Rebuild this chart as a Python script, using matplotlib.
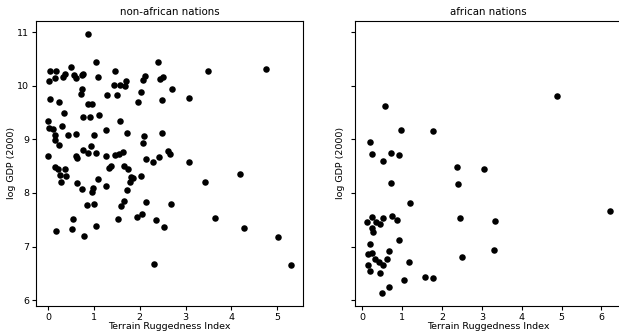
import matplotlib
matplotlib.use("Agg")
import matplotlib.pyplot as plt

# Terrain ruggedness vs. log GDP per capita (2000)
non_african_rugged = [
    0.87, 1.05, 2.40, 0.03, 0.18, 0.51, 0.37, 0.32, 0.14, 0.02,
    0.57, 0.60, 0.73, 0.77, 1.09, 1.46, 2.11, 2.08, 2.50, 2.45,
    1.43, 1.58, 1.69, 1.68, 0.75, 0.71, 1.29, 1.51, 2.03, 1.96,
    2.49, 2.70, 3.08, 3.50, 4.75, 0.05, 0.23, 0.87, 0.96, 0.34,
    0.77, 0.91, 1.10, 1.56, 0.00, 0.01, 0.11, 0.30, 1.26, 1.72,
    0.16, 0.43, 0.60, 1.00, 2.48, 0.15, 0.23, 2.10, 2.07, 0.94,
    0.77, 0.88, 1.05, 0.00, 0.60, 0.64, 1.26, 1.47, 1.55, 1.64,
    2.13, 2.30, 2.43, 2.62, 2.66, 3.07, 1.33, 1.38, 1.66, 1.74,
    0.14, 0.22, 0.37, 0.26, 0.40, 0.27, 0.64, 1.08, 0.75, 0.98,
    0.96, 1.26, 1.82, 1.86, 1.79, 2.02, 1.72, 0.84, 1.01, 1.66,
    1.59, 2.14, 2.68, 0.54, 1.53, 1.94, 2.04, 2.36, 2.54, 0.18,
    0.52, 1.05, 0.79, 2.31, 4.19, 3.42, 3.65, 4.28, 5.03, 5.30,
]
non_african_gdp = [
    10.97, 10.44, 10.44, 10.27, 10.27, 10.34, 10.22, 10.16, 10.15, 10.08,
    10.19, 10.15, 10.19, 10.22, 10.16, 10.27, 10.18, 10.11, 10.16, 10.12,
    10.02, 10.01, 10.09, 10.00, 9.94, 9.84, 9.82, 9.82, 9.89, 9.70,
    9.74, 9.93, 9.77, 10.28, 10.32, 9.75, 9.69, 9.65, 9.65, 9.50,
    9.41, 9.42, 9.45, 9.34, 9.34, 9.22, 9.19, 9.25, 9.17, 9.11,
    9.09, 9.08, 9.10, 9.09, 9.12, 8.98, 8.89, 9.06, 8.93, 8.87,
    8.80, 8.75, 8.75, 8.69, 8.68, 8.65, 8.68, 8.70, 8.73, 8.76,
    8.64, 8.58, 8.67, 8.78, 8.72, 8.58, 8.47, 8.50, 8.50, 8.44,
    8.49, 8.44, 8.44, 8.33, 8.32, 8.21, 8.19, 8.26, 8.08, 8.09,
    8.01, 8.13, 8.29, 8.28, 8.20, 8.31, 8.06, 7.78, 7.79, 7.85,
    7.75, 7.83, 7.79, 7.52, 7.52, 7.55, 7.60, 7.49, 7.36, 7.30,
    7.32, 7.38, 7.19, 6.67, 8.35, 8.21, 7.53, 7.35, 7.18, 6.66,
]

african_rugged = [
    0.56, 0.96, 1.77, 0.19, 0.23, 0.73, 0.91, 0.51, 2.37, 3.06,
    0.73, 2.41, 1.20, 0.24, 0.51, 0.75, 0.86, 0.12, 0.35, 0.44,
    0.24, 0.27, 2.44, 0.91, 0.19, 0.14, 0.24, 0.67, 0.31, 0.43,
    0.52, 0.61, 0.14, 0.18, 0.44, 1.18, 2.49, 1.04, 1.57, 1.78,
    0.68, 0.50, 4.88, 3.33, 6.21, 3.31,
]
african_gdp = [
    9.63, 9.17, 9.16, 8.95, 8.72, 8.75, 8.71, 8.60, 8.48, 8.45,
    8.19, 8.16, 7.82, 7.55, 7.54, 7.58, 7.49, 7.45, 7.45, 7.42,
    7.35, 7.27, 7.53, 7.12, 7.04, 6.86, 6.89, 6.92, 6.77, 6.71,
    6.65, 6.77, 6.66, 6.55, 6.50, 6.71, 6.81, 6.37, 6.44, 6.42,
    6.25, 6.14, 9.80, 7.47, 7.66, 6.94,
]

plt.rcParams["font.family"] = ["DejaVu Sans"]
plt.rcParams["font.size"] = 6.8

fig = plt.figure(figsize=(6.19, 3.32), dpi=100)
W, H = 619.0, 332.0
ax1 = fig.add_axes([36 / W, (H - 305.7) / H, 267 / W, 285 / H])
ax2 = fig.add_axes([355 / W, (H - 305.7) / H, 267 / W, 285 / H], sharey=ax1)

panels = [
    (ax1, non_african_rugged, non_african_gdp, "non-african nations", 0.5),
    (ax2, african_rugged, african_gdp, "african nations", 4),
]
for ax, xs, ys, title, ypad in panels:
    ax.scatter(xs, ys, s=22, color="black", linewidths=0)
    ax.set_title(title, fontsize=7.4, pad=4)
    ax.set_xlabel("Terrain Ruggedness Index", labelpad=0.5)
    ax.set_ylabel("log GDP (2000)", labelpad=ypad)
    ax.tick_params(length=3, width=0.8, pad=2)
    for sp in ax.spines.values():
        sp.set_linewidth(0.8)

ax1.set_yticks([6, 7, 8, 9, 10, 11])
ax1.set_xticks([0, 1, 2, 3, 4, 5])
ax2.set_xticks([0, 1, 2, 3, 4, 5, 6])
ax2.tick_params(labelleft=False)

fig.savefig("out.png", dpi=100)
